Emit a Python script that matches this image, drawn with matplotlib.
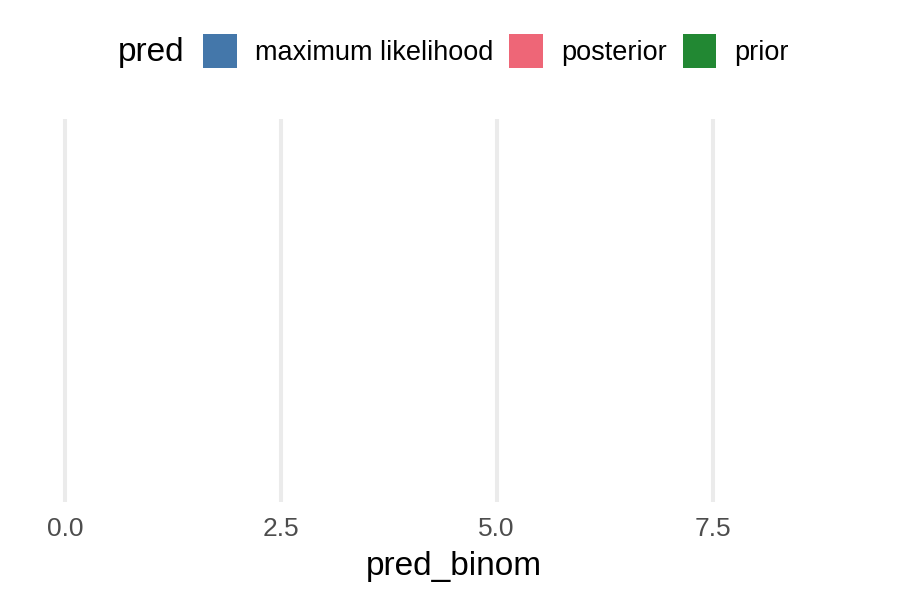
import matplotlib.pyplot as plt
from matplotlib.patches import Patch

# legend categories (no marks are visible in the panel)
pred_levels = ["maximum likelihood", "posterior", "prior"]
pred_colors = ["#4477AA", "#EE6677", "#228833"]

# x axis
x_ticks = [0.0, 2.5, 5.0, 7.5]
x_ticklabels = ["0.0", "2.5", "5.0", "7.5"]
x_range = [0, 9]

plt.rcParams["font.family"] = ["Liberation Sans", "DejaVu Sans"]

fig = plt.figure(figsize=(9, 6), dpi=100)
ax = fig.add_axes([26 / 900, 98 / 600, 855 / 900, 383 / 600])

# ggplot-style expansion of 5% on each side
span = x_range[1] - x_range[0]
ax.set_xlim(x_range[0] - 0.05 * span, x_range[1] + 0.05 * span)
ax.set_ylim(0, 1)

ax.set_xticks(x_ticks)
ax.set_xticklabels(x_ticklabels)
ax.set_yticks([])
ax.tick_params(axis="x", length=0, pad=11, labelsize=19, labelcolor="#4D4D4D")
ax.grid(axis="x", color="#EBEBEB", linewidth=2.9)
ax.set_axisbelow(True)
for s in ax.spines.values():
    s.set_visible(False)

ax.set_xlabel("pred_binom", fontsize=24, labelpad=7)

# legend on top
handles = [Patch(facecolor=c, edgecolor="none", label=l)
           for l, c in zip(pred_levels, pred_colors)]
fig.text(118 / 900, 1 - 52 / 600, "pred", fontsize=24, ha="left", va="center")
fig.legend(handles=handles, ncol=3, loc="center left",
           bbox_to_anchor=(203 / 900, 1 - 51 / 600), frameon=False,
           fontsize=19.5, handlelength=1.25, handleheight=1.55,
           handletextpad=0.66, columnspacing=0.59, borderaxespad=0,
           borderpad=0)

fig.savefig("out.png", dpi=100)
